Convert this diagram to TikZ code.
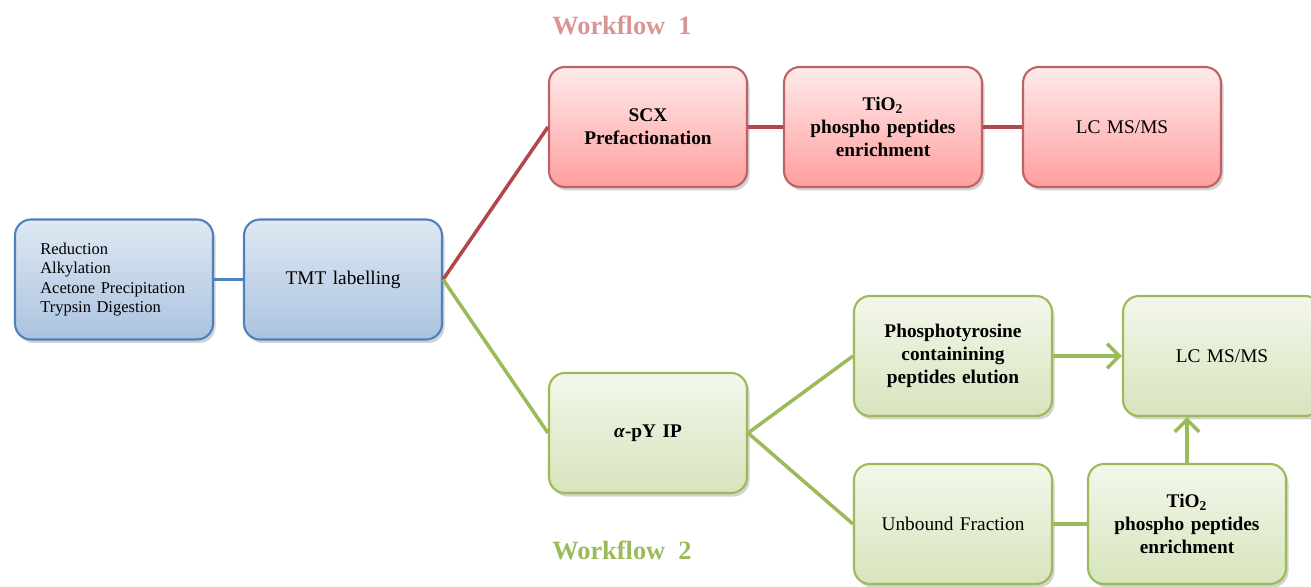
\documentclass[tikz,border=0pt]{standalone}
\usepackage{fontspec}
\setmainfont{Liberation Serif}
\usetikzlibrary{arrows.meta,shadows}

\definecolor{blueline}{HTML}{4F81BD}
\definecolor{redline}{HTML}{B2464A}
\definecolor{greenline}{HTML}{9BBB59}
\definecolor{wfred}{HTML}{D99594}

\begin{document}
\begin{tikzpicture}
\tikzset{box/.style = {shape=rectangle,rounded corners=0.32cm,line width=1.2pt,
  minimum width=3.96cm,minimum height=2.4cm,text width=3.6cm,align=center,
  font=\fontsize{11}{13}\selectfont,drop shadow={opacity=0.35,shadow xshift=0.05cm,shadow yshift=-0.07cm}}}
\tikzset{bluebox/.style = {box,draw=blueline,top color=blueline!18,bottom color=blueline!48}}
\tikzset{redbox/.style = {box,draw=redline!85,top color=red!8,bottom color=red!30!pink!80}}
\tikzset{greenbox/.style = {box,draw=greenline,top color=greenline!12,bottom color=greenline!40}}
\tikzset{edge/.style = {-,line width=2pt}}
\tikzset{arr/.style = {edge,-{Straight Barb[length=7pt,width=14pt]}}}
\useasboundingbox (0,0) rectangle (26.22,11.72);

\node[bluebox,align=left,font=\fontsize{9.4}{11}\selectfont,text width=2.95cm] (prep) at (2.28,6.13)
  {Reduction\\Alkylation\\Acetone Precipitation\\Trypsin Digestion};
\node[bluebox] (tmt) at (6.86,6.13) {TMT labelling};

\node[redbox,font=\bfseries\fontsize{11}{13}\selectfont] (scx) at (12.96,9.18) {SCX\\Prefactionation};
\node[redbox,font=\bfseries\fontsize{11}{13}\selectfont] (tiored) at (17.66,9.18) {TiO\textsubscript{2}\\phospho peptides\\enrichment};
\node[redbox] (lcred) at (22.44,9.18) {LC MS/MS};

\node[greenbox,font=\bfseries\fontsize{11}{13}\selectfont] (apy) at (12.96,3.06) {\textit{α}-pY IP};
\node[greenbox,font=\bfseries\fontsize{11}{13}\selectfont] (elution) at (19.06,4.6) {Phosphotyrosine\\containining\\peptides elution};
\node[greenbox] (lcgreen) at (24.44,4.6) {LC MS/MS};
\node[greenbox] (unbound) at (19.06,1.24) {Unbound Fraction};
\node[greenbox,font=\bfseries\fontsize{11}{13}\selectfont] (tiogreen) at (23.74,1.24) {TiO\textsubscript{2}\\phospho peptides\\enrichment};

\node[font=\bfseries\fontsize{15}{17}\selectfont,text=wfred] (wfone) at (12.44,11.22) {Workflow\ \ 1};
\node[font=\bfseries\fontsize{15}{17}\selectfont,text=greenline] (wftwo) at (12.44,0.72) {Workflow\ \ 2};

\draw[edge,draw=blueline] (prep) to (tmt);
\draw[edge,draw=redline] (tmt.east) to (scx.west);
\draw[edge,draw=redline] (scx) to (tiored);
\draw[edge,draw=redline] (tiored) to (lcred);
\draw[edge,draw=greenline] (tmt.east) to (apy.west);
\draw[edge,draw=greenline] (apy.east) to (elution.west);
\draw[edge,draw=greenline] (apy.east) to (unbound.west);
\draw[arr,draw=greenline] (elution.east) to (elution.east -| lcgreen.west);
\draw[edge,draw=greenline] (unbound) to (tiogreen);
\draw[arr,draw=greenline] (tiogreen.north) to (tiogreen.north |- lcgreen.south);
\end{tikzpicture}
\end{document}
